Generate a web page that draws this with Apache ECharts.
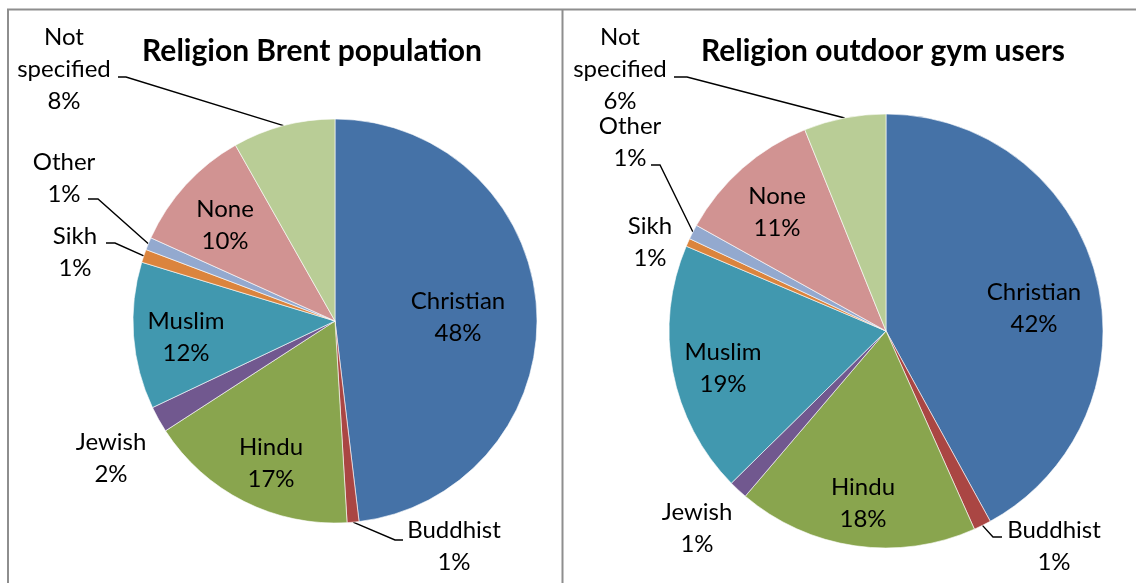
<!DOCTYPE html>
<html>
<head>
<meta charset="utf-8">
<script src="https://cdn.jsdelivr.net/npm/echarts@6/dist/echarts.min.js"></script>
<style>
html,body{margin:0;padding:0;background:#fff;}
#c{width:1136px;height:583px;}
</style>
</head>
<body>
<div id="c"></div>
<script>
// ---- Data ----
const categories = ['Christian','Buddhist','Hindu','Jewish','Muslim','Sikh','Other','None','Not specified'];
const brentValues = [48.1, 0.95, 16.8, 2.1, 11.75, 1.05, 1.0, 10.05, 8.2];
const gymValues   = [42.0, 1.3, 17.9, 1.4, 18.75, 0.6, 1.1, 10.8, 6.1];
const titles = ['Religion Brent population', 'Religion outdoor gym users'];

// ---- Styles / layout ----
const colors = ['#4572A7','#AA4643','#89A54E','#71588F','#4198AF','#DB843D','#93A9CF','#D19392','#B9CD96'];
const labelText = {
  'Not specified': 'Not\nspecified'
};
// label centre positions and leader line elbows (pixels), per chart
const labelLayouts = [
  {
    'Christian': {x:458, y:317},
    'Buddhist': {x:454, y:546, line:[[395,540],[403,540]]},
    'Hindu': {x:271, y:463},
    'Jewish': {x:111, y:458},
    'Muslim': {x:186, y:337},
    'Sikh': {x:75, y:252, line:[[115,243],[106,243]]},
    'Other': {x:64, y:178, line:[[98,199],[88,199]]},
    'None': {x:225, y:225},
    'Not specified': {x:64, y:69, line:[[126,77],[118,77]]}
  },
  {
    'Christian': {x:1034, y:308},
    'Buddhist': {x:1054, y:546, line:[[993,537],[1002,537]]},
    'Hindu': {x:863, y:503},
    'Jewish': {x:697, y:528},
    'Muslim': {x:723, y:368},
    'Sikh': {x:650, y:242},
    'Other': {x:630, y:142, line:[[660,165],[651,165]]},
    'None': {x:777, y:212},
    'Not specified': {x:620, y:69, line:[[687,77],[674,77]]}
  }
];
const pies = [
  {center:[335,321], radius:202, values:brentValues},
  {center:[886,331], radius:217, values:gymValues}
];
const FONT = 'Lato';

const chart = echarts.init(document.getElementById('c'), null, {renderer:'canvas'});

const series = pies.map((p, si) => ({
  type:'pie',
  center:p.center,
  radius:p.radius,
  startAngle:90,
  clockwise:true,
  animation:false,
  silent:true,
  avoidLabelOverlap:false,
  itemStyle:{borderColor:'#ffffff', borderWidth:0.6},
  label:{
    show:true,
    position:'outside',
    color:'#000',
    fontFamily:FONT,
    fontSize:24,
    lineHeight:32,
    align:'center',
    formatter: (prm) => (labelText[prm.name] || prm.name) + '\n' + Math.round(prm.value) + '%'
  },
  labelLine:{show:true, lineStyle:{color:'#000', width:1.4}, length:10, length2:10},
  labelLayout: (prm) => {
    const name = categories[prm.dataIndex];
    const L = labelLayouts[si][name];
    const out = {x:L.x, y:L.y, align:'center', verticalAlign:'middle'};
    if (L.line) {
      out.labelLinePoints = [prm.labelLinePoints ? prm.labelLinePoints[0] : L.line[0], L.line[0], L.line[1]];
    }
    return out;
  },
  data: categories.map((c, i) => ({
    name:c,
    value:p.values[i],
    itemStyle:{color:colors[i]},
    labelLine:{show: !!labelLayouts[si][c].line}
  }))
}));

chart.setOption({
  backgroundColor:'#ffffff',
  title: [
    {text:titles[0], left:307, top:31, textAlign:'center',
     textStyle:{fontFamily:FONT, fontWeight:'bold', fontSize:30, color:'#000'}},
    {text:titles[1], left:878, top:31, textAlign:'center',
     textStyle:{fontFamily:FONT, fontWeight:'bold', fontSize:30, color:'#000'}}
  ],
  graphic: [
    {type:'line', shape:{x1:7, y1:9.5, x2:1136, y2:9.5}, style:{stroke:'#8e8e8e', lineWidth:2}, silent:true},
    {type:'line', shape:{x1:8, y1:9, x2:8, y2:583}, style:{stroke:'#8e8e8e', lineWidth:2}, silent:true},
    {type:'line', shape:{x1:562.5, y1:9, x2:562.5, y2:583}, style:{stroke:'#8e8e8e', lineWidth:2}, silent:true}
  ],
  series: series
});
</script>
</body>
</html>
